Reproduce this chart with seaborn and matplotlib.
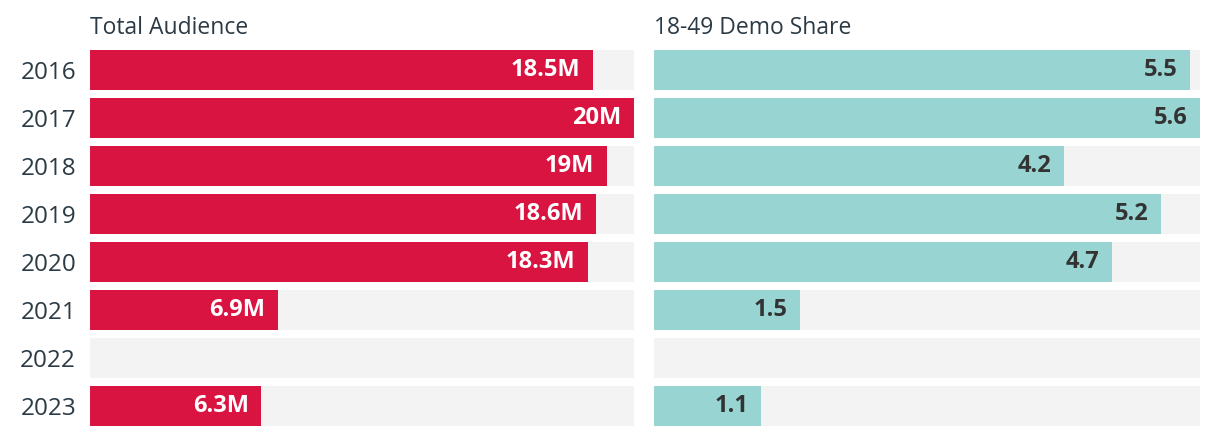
import numpy as np
import pandas as pd
import seaborn as sns
import matplotlib.pyplot as plt

# data
years = ["2016", "2017", "2018", "2019", "2020", "2021", "2022", "2023"]
audience = [18.5, 20.0, 19.0, 18.6, 18.3, 6.9, np.nan, 6.3]
audience_labels = ["18.5M", "20M", "19M", "18.6M", "18.3M", "6.9M", "", "6.3M"]
demo_share = [5.5, 5.6, 4.2, 5.2, 4.7, 1.5, np.nan, 1.1]
demo_labels = ["5.5", "5.6", "4.2", "5.2", "4.7", "1.5", "", "1.1"]

sns.set_theme(style="white")
plt.rcParams['font.family'] = ['Open Sans', 'DejaVu Sans']

df = pd.DataFrame({"year": years, "audience": audience, "demo": demo_share})

fig = plt.figure(figsize=(12.2, 4.36), dpi=100)
top, bottom = 1 - 46 / 436, 1 - 430 / 436
ax1 = fig.add_axes([90 / 1220, bottom, 544 / 1220, top - bottom])
ax2 = fig.add_axes([654 / 1220, bottom, 546 / 1220, top - bottom])

panels = [
    (ax1, "audience", audience_labels, "Total Audience", "#D91440", "white", 20.0),
    (ax2, "demo", demo_labels, "18-49 Demo Share", "#98D5D2", "#333333", 5.6),
]

text_col = "#2B3A44"
for ax, col, labels, title, color, lab_color, vmax in panels:
    # grey track behind each bar
    track = pd.DataFrame({"year": years, "v": [vmax] * len(years)})
    sns.barplot(data=track, x="v", y="year", color="#F3F3F3", width=0.833,
                saturation=1, linewidth=0, ax=ax)
    sns.barplot(data=df, x=col, y="year", color=color, width=0.833,
                saturation=1, linewidth=0, ax=ax)
    ax.set_xlim(0, vmax)
    ax.set_ylim(7.5, -0.5)
    for i, (v, lab) in enumerate(zip(df[col], labels)):
        if not np.isnan(v):
            ax.annotate(lab, (v, i), xytext=(-9, 0), textcoords="offset points",
                        ha="right", va="center", color=lab_color,
                        fontsize=17, fontweight="bold")
    ax.set_title(title, loc="left", fontsize=16.5, color=text_col, pad=9)
    ax.set_xlabel("")
    ax.set_ylabel("")
    ax.set_xticks([])
    sns.despine(ax=ax, left=True, bottom=True)

ax1.tick_params(axis="y", length=0, labelsize=17.5, labelcolor=text_col, pad=10)
ax2.set_yticks([])

fig.savefig("out.png", dpi=100)
